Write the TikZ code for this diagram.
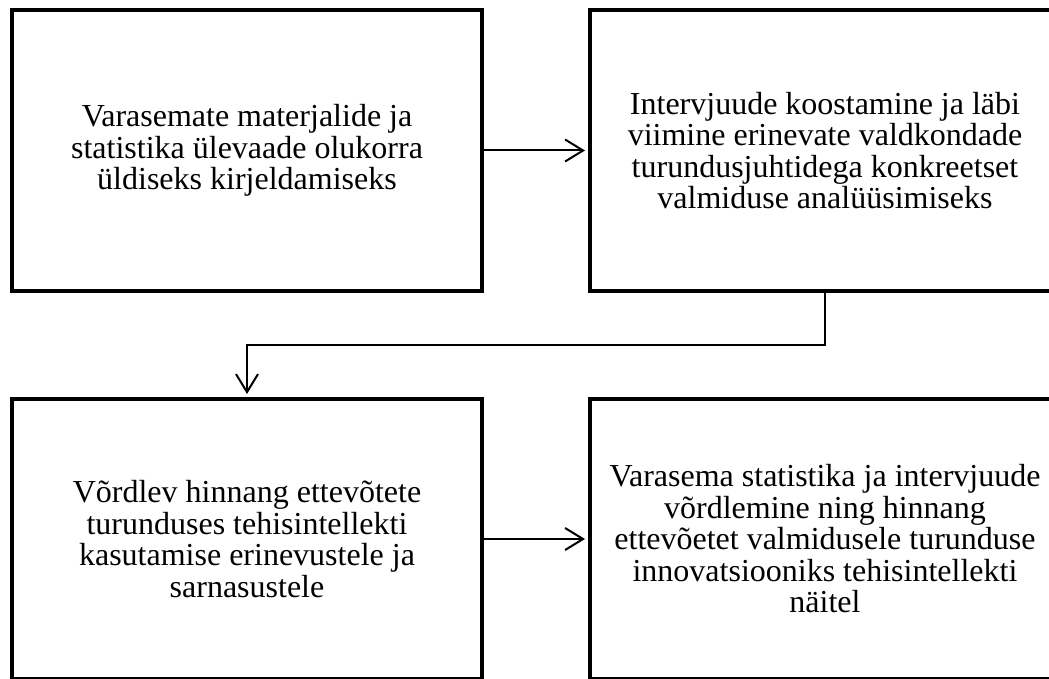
\documentclass[tikz,border=0pt]{standalone}
\usepackage{fontspec}
\setmainfont{Liberation Serif}
\usetikzlibrary{arrows.meta}
\begin{document}
\begin{tikzpicture}[x=1pt,y=-1pt,
  box/.style={draw=black, line width=4pt, minimum width=470pt, minimum height=280pt,
    inner sep=0pt, outer sep=0pt, align=center, fill=white,
    font=\fontsize{32}{31.5}\selectfont},
  conn/.style={line width=2pt, -{Straight Barb[length=18pt,width=22pt,line width=2pt]}, shorten >=5pt}]
\useasboundingbox (0,0) rectangle (1049,679);
\fill[white] (0,0) rectangle (1049,679);
\node[box] (b1) at (247,150.5) {Varasemate materjalide ja\\statistika ülevaade olukorra\\üldiseks kirjeldamiseks};
\node[box] (b2) at (825,150.5) {Intervjuude koostamine ja läbi\\viimine erinevate valdkondade\\turundusjuhtidega konkreetset\\valmiduse analüüsimiseks};
\node[box] (b3) at (247,539) {Võrdlev hinnang ettevõtete\\turunduses tehisintellekti\\kasutamise erinevustele ja\\sarnasustele};
\node[box] (b4) at (825,539) {Varasema statistika ja intervjuude\\võrdlemine ning hinnang\\ettevõetet valmidusele turunduse\\innovatsiooniks tehisintellekti\\näitel};
\coordinate (k1) at (825,345);
\coordinate (k2) at (247,345);
\draw[conn] (b1.east) -- (b2.west);
\draw[conn] (b3.east) -- (b4.west);
\draw[conn] (b2.south) -- (k1) -- (k2) -- (b3.north);
\end{tikzpicture}
\end{document}
